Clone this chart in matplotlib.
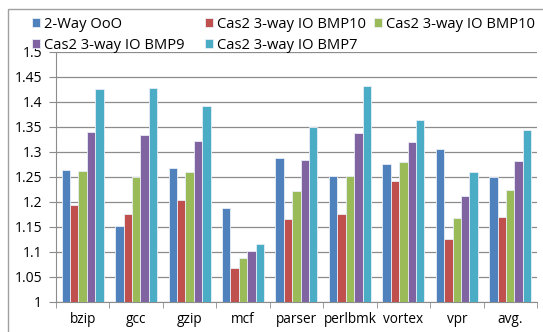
import matplotlib.pyplot as plt
import numpy as np
from matplotlib.patches import Rectangle

plt.rcParams['font.family'] = ['Open Sans', 'DejaVu Sans']

benchmarks = ["bzip", "gcc", "gzip", "mcf", "parser", "perlbmk", "vortex", "vpr", "avg."]
series_names = ["2-Way OoO", "Cas2 3-way IO BMP10", "Cas2 3-way IO BMP10",
                "Cas2 3-way IO BMP9", "Cas2 3-way IO BMP7"]
way2_ooo = [1.264, 1.152, 1.268, 1.187, 1.288, 1.252, 1.275, 1.305, 1.250]
bmp10_a = [1.194, 1.176, 1.203, 1.068, 1.165, 1.176, 1.241, 1.125, 1.169]
bmp10_b = [1.261, 1.249, 1.259, 1.088, 1.221, 1.252, 1.279, 1.167, 1.223]
bmp9 = [1.339, 1.333, 1.321, 1.101, 1.283, 1.337, 1.319, 1.212, 1.281]
bmp7 = [1.425, 1.428, 1.391, 1.115, 1.349, 1.432, 1.364, 1.259, 1.344]
colors = ["#4F81BD", "#C0504D", "#9BBB59", "#8064A2", "#4BACC6"]

fig = plt.figure(figsize=(5.43, 3.32), dpi=100)
ax = fig.add_axes([0.103, 0.0904, 0.886, 0.753])

x = np.arange(len(benchmarks))
w = 0.157
all_series = [way2_ooo, bmp10_a, bmp10_b, bmp9, bmp7]
handles = []
for i, vals in enumerate(all_series):
    b = ax.bar(x + (i - 2) * w, np.array(vals) - 1, w, bottom=1, color=colors[i],
               edgecolor="#e8eef6", linewidth=0.6, label=series_names[i], zorder=3)
    handles.append(b)

ax.set_ylim(1, 1.5)
ax.set_xlim(-0.5, len(benchmarks) - 0.5)
yt = np.round(np.arange(1, 1.501, 0.05), 2)
ax.set_yticks(yt)
ax.set_yticklabels([f"{v:g}" for v in yt])
ax.yaxis.grid(True, color="#8c8c8c", linewidth=0.9, zorder=0)
ax.set_axisbelow(True)

ax.set_xticks(x)
ax.set_xticklabels(benchmarks)
ax.set_xticks(np.arange(-0.5, len(benchmarks)), minor=True)
ax.tick_params(axis="x", which="major", length=0, pad=7, labelsize=9.8)
ax.tick_params(axis="x", which="minor", length=4, color="#8c8c8c")
ax.tick_params(axis="y", length=5, color="#8c8c8c", labelsize=10, pad=5)

for s in ["top", "right"]:
    ax.spines[s].set_visible(False)
ax.spines["left"].set_color("#8c8c8c")
ax.spines["bottom"].set_color("#8c8c8c")

# legend laid out row-wise in three columns, one legend per column
columns = [[0, 3], [1, 4], [2]]
col_x = [32, 205, 374]
for idx, cx in zip(columns, col_x):
    leg = fig.legend([handles[i] for i in idx], [series_names[i] for i in idx],
                     loc="upper left", bbox_to_anchor=(cx / 543, 0.949), frameon=False,
                     fontsize=10.6, handlelength=0.55, handleheight=0.55, handletextpad=0.25,
                     labelspacing=0.4, borderaxespad=0, borderpad=0)

fig.patches.append(Rectangle((8 / 543, -0.1), 1.2, 1 - 9 / 332 + 0.1,
                             transform=fig.transFigure, fill=False,
                             edgecolor="#a0a0a0", linewidth=1))

fig.savefig("out.png", dpi=100)
